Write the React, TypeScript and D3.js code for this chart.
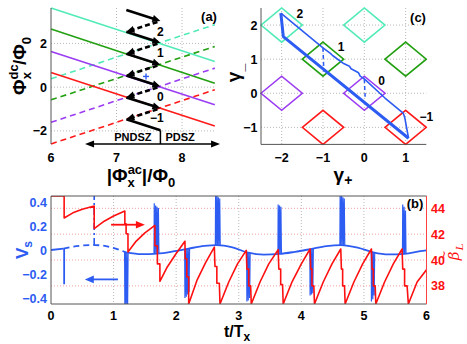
import React from 'react';
import * as d3 from 'd3';

// ---------- panel (a): flux branches ----------
const lineColors = ['#52ebb8', '#23a012', '#9b3cf2', '#ff1a1a'];
const solidLeft = [3.62, 2.66, 1.63, 0.67];    // value at |Φac| = 6
const solidRight = [1.17, 0.18, -0.81, -1.78]; // value at |Φac| = 8.5
const dashedLeft = [0.38, -0.58, -1.61, -2.6];
const dashedRight = [2.86, 1.86, 0.87, -0.12];
const stairX = [7.15, 7.67];
const stairTop = [3.53, 2.53, 1.53, 0.53, -0.47, -1.47];
const stairBottom = [3.03, 2.03, 1.03, 0.03, -0.97, -1.97];
const aLevelLabels = ['2', '1', '0', '\u22121'];
const aLevelY = [2.53, 1.57, -0.44, -1.41];
const aXTicks = [6, 7, 8];
const aYTicks = [-2, 0, 2];
const zoneBoundary = 7.67;
const zoneArrow = [6.52, 8.58];
const crossPoint = [7.45, 0.49];

// ---------- panel (c): gamma plane ----------
const diamondCenters = [[-2, 2], [0, 2], [-1, 1], [1, 1], [-2, 0], [0, 0], [-1, -1], [1, -1]];
const diamondColor = [0, 0, 1, 1, 2, 2, 3, 3];
const upperPath = [[-2.02, 2.35], [-1.0, 1.33], [-0.82, 1.17], [-0.76, 1.1], [-0.5, 0.87], [-0.36, 0.79],
  [-0.32, 0.72], [-0.14, 0.6], [-0.1, 0.5], [0.0, 0.42], [0.5, -0.14], [0.94, -0.58], [0.98, -0.72], [1.07, -1.32]];
const lowerPath = [[1.07, -1.32], [-1.96, 1.66], [-2.02, 2.35]];
const cDashX = [-1.0, 0.0];
const cDashTop = [1.33, 0.42];
const cDashBottom = [0.64, -0.1];
const cLevelLabels = ['2', '1', '0', '\u22121'];
const cLabelPos = [[-1.56, 2.33], [-0.56, 1.37], [0.42, 0.37], [1.5, -0.69]];
const cXTicks = [-2, -1, 0, 1];
const cYTicks = [-1, 0, 1, 2];

// ---------- panel (b): time traces ----------
const vsT = [0, 0.2, 0.45, 0.7, 0.95, 1.2, 1.45, 1.7, 1.95, 2.2, 2.45, 2.65, 2.9, 3.15, 3.4, 3.65, 3.9, 4.15, 4.4, 4.63, 4.9, 5.15, 5.4, 5.65, 5.9, 6.0];
const vsV = [0.0, 0.012, 0.035, 0.041, 0.024, -0.02, -0.035, -0.03, -0.012, 0.012, 0.034, 0.041, 0.022, -0.022, -0.038, -0.033, -0.015, 0.008, 0.032, 0.041, 0.02, -0.02, -0.037, -0.032, -0.01, -0.003];
const upSpikeT = [1.65, 2.63, 3.63, 4.62, 5.62];
const upSpikeTips = [[0.39, 0.37, 0.36, 0.35], [0.46, 0.46, 0.44, 0.43], [0.38, 0.37, 0.36], [0.46, 0.46, 0.44, 0.43], [0.38, 0.36, 0.33]];
const downSpikeT = [1.18, 2.14, 3.13, 4.14, 5.12];
const downSpikeTips = [[-0.47, -0.47, -0.47], [-0.4, -0.39, -0.37, -0.35], [-0.43, -0.42, -0.4], [-0.38, -0.37, -0.36], [-0.43, -0.41, -0.38]];
const betaL: [number, number][] = [
  [0, 44.95], [0.21, 44.95], [0.21, 43.25], [0.35, 43.65], [0.5, 43.93], [0.69, 44.18],
  [0.69, 42.42], [0.85, 43.0], [1.0, 43.4], [1.18, 43.79],
  [1.18, 42.8], [1.2, 42.8], [1.2, 42.03], [1.23, 42.03], [1.23, 40.62], [1.35, 41.4], [1.5, 42.1], [1.66, 42.68],
  [1.66, 41.1], [1.7, 41.1], [1.7, 39.7], [1.74, 39.7], [1.74, 38.35], [1.85, 39.4], [2.0, 40.5], [2.14, 41.45],
  [2.145, 40.1], [2.17, 40.1], [2.17, 38.7], [2.2, 38.7], [2.2, 36.6], [2.33, 38.4], [2.47, 39.8], [2.61, 41.0],
  [2.62, 39.5], [2.65, 39.5], [2.65, 38.2], [2.69, 38.2], [2.7, 36.6], [2.84, 38.3], [2.98, 39.7], [3.12, 40.75],
  [3.13, 39.3], [3.16, 39.3], [3.16, 38.0], [3.19, 38.0], [3.2, 36.6], [3.34, 38.3], [3.48, 39.7], [3.63, 40.8],
  [3.64, 39.3], [3.67, 39.3], [3.67, 38.1], [3.7, 38.1], [3.71, 36.6], [3.85, 38.3], [4.0, 39.7], [4.14, 40.85],
  [4.15, 39.3], [4.17, 39.3], [4.17, 38.0], [4.2, 38.0], [4.21, 36.6], [4.35, 38.3], [4.49, 39.7], [4.63, 40.85],
  [4.64, 39.3], [4.66, 39.3], [4.66, 38.0], [4.69, 38.0], [4.7, 36.6], [4.84, 38.3], [4.98, 39.7], [5.12, 40.85],
  [5.13, 39.3], [5.15, 39.3], [5.15, 38.0], [5.18, 38.0], [5.19, 36.6], [5.33, 38.3], [5.47, 39.7], [5.61, 40.85],
  [5.62, 39.3], [5.65, 39.3], [5.65, 38.0], [5.69, 38.0], [5.71, 36.6], [5.85, 38.3], [6.0, 39.25],
];
const bXTicks = [0, 1, 2, 3, 4, 5, 6];
const vsTicks = [0.4, 0.2, 0, -0.2, -0.4];
const betaTicks = [44, 42, 40, 38];

const FONT = '"Liberation Sans", Arial, Helvetica, sans-serif';
const BLUE = '#2d5cf2';
const GRID = '#b8b8b8';
const AXIS = '#555';

function head(x1: number, y1: number, x2: number, y2: number, len = 8, w = 3.5) {
  const a = Math.atan2(y2 - y1, x2 - x1);
  const bx = x2 - len * Math.cos(a), by = y2 - len * Math.sin(a);
  const nx = -Math.sin(a) * w, ny = Math.cos(a) * w;
  return `${x2},${y2} ${bx + nx},${by + ny} ${bx - nx},${by - ny}`;
}

const fmt = (v: number) => (v < 0 ? '\u2212' + Math.abs(v) : String(v));

export default function App() {
  const ax = d3.scaleLinear().domain([6, 8.5]).range([51, 214.8]);
  const ay = d3.scaleLinear().domain([-2.6, 3.62]).range([144, 8]);
  const cx = d3.scaleLinear().domain([-2.5, 1.5]).range([261, 426.3]);
  const cy = d3.scaleLinear().domain([-1.5, 2.5]).range([144.4, 8]);
  const bx = d3.scaleLinear().domain([0, 6]).range([51, 426.5]);
  const bv = d3.scaleLinear().domain([-0.45, 0.45]).range([304, 196]);
  const bb = d3.scaleLinear().domain([36.6, 44.95]).range([304, 196]);

  const baseAt = (t: number) => {
    const i = Math.max(1, Math.min(vsT.length - 1, d3.bisectLeft(vsT, t)));
    const f = (t - vsT[i - 1]) / (vsT[i] - vsT[i - 1]);
    return vsV[i - 1] + f * (vsV[i] - vsV[i - 1]);
  };

  const vsPts: [number, number][] = vsT.map((t, i) => [t, vsV[i]]);
  const vsLine = d3.line<[number, number]>().x(d => bx(d[0])).y(d => bv(d[1])).curve(d3.curveMonotoneX);
  const vsA = vsPts.filter(d => d[0] <= 0.2);
  const vsB = vsPts.filter(d => d[0] >= 0.2 && d[0] <= 1.2);
  const vsC = vsPts.filter(d => d[0] >= 1.2);

  const spikePath = (t0: number, tips: number[]) => {
    let p = `M${bx(t0 - 0.004)},${bv(baseAt(t0))}`;
    tips.forEach((tip, j) => {
      const t = t0 + j * 0.022;
      p += `L${bx(t)},${bv(tip)}L${bx(t + 0.008)},${bv(baseAt(t))}`;
    });
    return p;
  };

  const betaLine = d3.line<[number, number]>().x(d => bx(d[0])).y(d => bb(d[1]));
  const cLine = d3.line<number[]>().x(d => cx(d[0])).y(d => cy(d[1]));

  const tick = { fontFamily: FONT, fontWeight: 700, fontSize: 12.5 } as const;
  const bold = { fontFamily: FONT, fontWeight: 700 } as const;

  // blue arrow / red arrow in (b)
  const blueArrow = [bx(1.07), bv(-0.245), bx(0.54), bv(-0.245)];
  const redArrow = [bx(0.96), bb(42.73), bx(1.5), bb(42.73)];

  return (
    <svg width={467} height={344} style={{ position: 'absolute', left: 0, top: 0, background: '#fff' }}>
      <defs>
        <clipPath id="clipA"><rect x={50} y={6} width={166} height={140} /></clipPath>
        <clipPath id="clipB"><rect x={51} y={196} width={375.5} height={108} /></clipPath>
        <clipPath id="clipC"><rect x={260} y={7} width={167.5} height={138.5} /></clipPath>
      </defs>

      {/* ================= panel (a) ================= */}
      <g>
        {aXTicks.filter(t => t > 6).map(t => (
          <line key={'ag' + t} x1={ax(t)} x2={ax(t)} y1={ay(3.62)} y2={ay(-2.6)} stroke={GRID} strokeDasharray="1,2" />
        ))}
        {aYTicks.map(t => (
          <line key={'agy' + t} x1={ax(6)} x2={ax(8.5)} y1={ay(t)} y2={ay(t)} stroke={GRID} strokeDasharray="1,2" />
        ))}
        <g clipPath="url(#clipA)">
          {lineColors.map((c, i) => (
            <g key={'al' + i}>
              <line x1={ax(6)} y1={ay(solidLeft[i])} x2={ax(8.5)} y2={ay(solidRight[i])} stroke={c} strokeWidth={1.6} />
              <line x1={ax(6)} y1={ay(dashedLeft[i])} x2={ax(8.5)} y2={ay(dashedRight[i])} stroke={c} strokeWidth={1.6} strokeDasharray="6,4" />
            </g>
          ))}
        </g>
        {stairTop.map((top, i) => {
          const x1 = ax(stairX[0]), y1 = ay(top), x2 = ax(stairX[1]), y2 = ay(stairBottom[i]);
          const last = i === stairTop.length - 1;
          return (
            <g key={'st' + i}>
              <line x1={x1} y1={y1} x2={last ? ax(zoneBoundary) : x2 - 3} y2={last ? y2 : y2 - 1} stroke="#000" strokeWidth={2.6} />
              {!last && <polygon points={head(x1, y1, x2, y2, 8, 3.6)} fill="#000" />}
            </g>
          );
        })}
        {stairBottom.slice(0, -1).map((b, i) => {
          const x1 = ax(stairX[1]), y1 = ay(b), x2 = ax(stairX[0]), y2 = ay(stairTop[i + 1]);
          return (
            <g key={'sd' + i}>
              <line x1={x1 - 3} y1={y1 + 1} x2={x2 + 4} y2={y2 - 1.3} stroke="#000" strokeWidth={2.6} strokeDasharray="5,3" />
              <polygon points={head(x1, y1, x2, y2, 8, 3.6)} fill="#000" />
            </g>
          );
        })}
        {aLevelLabels.map((l, i) => (
          <text key={'alab' + i} x={ax(7.72)} y={ay(aLevelY[i])} dy="0.36em" textAnchor="end" fontSize={12} {...bold}>{l}</text>
        ))}
        <g stroke={BLUE} strokeWidth={1.4}>
          <line x1={ax(crossPoint[0]) - 3} x2={ax(crossPoint[0]) + 3} y1={ay(crossPoint[1])} y2={ay(crossPoint[1])} />
          <line x1={ax(crossPoint[0])} x2={ax(crossPoint[0])} y1={ay(crossPoint[1]) - 3} y2={ay(crossPoint[1]) + 3} />
        </g>
        {/* zones */}
        <line x1={ax(zoneBoundary)} x2={ax(zoneBoundary)} y1={ay(stairBottom[5])} y2={ay(-2.6)} stroke="#000" strokeWidth={1.5} />
        <line x1={ax(zoneArrow[0]) + 4} x2={ax(zoneArrow[1]) - 4} y1={ay(-2.6)} y2={ay(-2.6)} stroke="#000" strokeWidth={1.5} />
        <polygon points={head(ax(zoneArrow[1]), ay(-2.6), ax(zoneArrow[0]), ay(-2.6), 9, 3.6)} fill="#000" />
        <polygon points={head(ax(zoneArrow[0]), ay(-2.6), ax(zoneArrow[1]), ay(-2.6), 9, 3.6)} fill="#000" />
        <text x={ax(7.25)} y={ay(-2.27)} dy="0.36em" textAnchor="middle" fontSize={11} {...bold}>PNDSZ</text>
        <text x={ax(7.97)} y={ay(-2.27)} dy="0.36em" textAnchor="middle" fontSize={11} {...bold}>PDSZ</text>
        <line x1={ax(6)} x2={ax(6)} y1={ay(3.62)} y2={ay(-2.6)} stroke={AXIS} strokeWidth={1} />
        {aXTicks.map(t => (
          <text key={'axt' + t} x={ax(t)} y={157} dy="0.36em" textAnchor="middle" {...tick}>{t}</text>
        ))}
        {aYTicks.map(t => (
          <text key={'ayt' + t} x={47} y={ay(t)} dy="0.36em" textAnchor="end" {...tick}>{fmt(t)}</text>
        ))}
        <text x={209} y={16} dy="0.36em" textAnchor="middle" fontSize={13} {...bold}>(a)</text>
        {/* x label |Φx^ac|/Φ0 */}
        <text x={141} y={182} textAnchor="middle" fontSize={19} {...bold}>
          |Φ<tspan fontSize={13} dy={-8}>ac</tspan><tspan fontSize={13} dx={-14.5} dy={13}>x</tspan>
          <tspan dx={7} dy={-5}>|/Φ</tspan><tspan fontSize={13} dy={5}>0</tspan>
        </text>
        {/* y label Φx^dc/Φ0 */}
        <text transform="translate(26,66) rotate(-90)" textAnchor="middle" fontSize={19} {...bold}>
          Φ<tspan fontSize={13} dy={-8}>dc</tspan><tspan fontSize={13} dx={-15} dy={13}>x</tspan>
          <tspan dx={7} dy={-5}>/Φ</tspan><tspan fontSize={13} dy={5}>0</tspan>
        </text>
      </g>

      {/* ================= panel (c) ================= */}
      <g>
        {cXTicks.map(t => (
          <line key={'cg' + t} x1={cx(t)} x2={cx(t)} y1={cy(2.5)} y2={cy(-1.5)} stroke={GRID} strokeDasharray="1,2" />
        ))}
        {cYTicks.map(t => (
          <line key={'cgy' + t} x1={cx(-2.5)} x2={cx(1.5)} y1={cy(t)} y2={cy(t)} stroke={GRID} strokeDasharray="1,2" />
        ))}
        <g clipPath="url(#clipC)">
          {diamondCenters.map((d, i) => (
            <polygon key={'dm' + i} fill="none" stroke={lineColors[diamondColor[i]]} strokeWidth={1.6}
              points={[[d[0] - 0.5, d[1]], [d[0], d[1] + 0.5], [d[0] + 0.5, d[1]], [d[0], d[1] - 0.5]].map(p => `${cx(p[0])},${cy(p[1])}`).join(' ')} />
          ))}
          <path d={cLine(lowerPath) || ''} fill="none" stroke={BLUE} strokeWidth={3} strokeLinejoin="round" />
          <path d={cLine(upperPath) || ''} fill="none" stroke={BLUE} strokeWidth={1.6} strokeLinejoin="round" />
          {cDashX.map((x, i) => (
            <line key={'cd' + i} x1={cx(x)} x2={cx(x + 0.02)} y1={cy(cDashTop[i])} y2={cy(cDashBottom[i])} stroke={BLUE} strokeWidth={1.5} strokeDasharray="4,3" />
          ))}
        </g>
        {cLevelLabels.map((l, i) => (
          <text key={'clab' + i} x={cx(cLabelPos[i][0])} y={cy(cLabelPos[i][1])} dy="0.36em" textAnchor="middle" fontSize={12} {...bold}>{l}</text>
        ))}
        <line x1={cx(-2.5)} x2={cx(-2.5)} y1={cy(2.5)} y2={cy(-1.5)} stroke={AXIS} />
        <line x1={cx(-2.5)} x2={cx(1.5)} y1={cy(-1.5)} y2={cy(-1.5)} stroke={AXIS} />
        {cXTicks.map(t => (
          <text key={'cxt' + t} x={cx(t)} y={157} dy="0.36em" textAnchor="middle" {...tick}>{fmt(t)}</text>
        ))}
        {cYTicks.map(t => (
          <text key={'cyt' + t} x={257.5} y={cy(t)} dy="0.36em" textAnchor="end" {...tick}>{fmt(t)}</text>
        ))}
        <text x={418} y={17} dy="0.36em" textAnchor="middle" fontSize={13} {...bold}>(c)</text>
        <text x={343} y={181} textAnchor="middle" fontSize={19} {...bold}>
          γ<tspan fontSize={14} dy={4}>+</tspan>
        </text>
        <text transform="translate(240,73) rotate(-90)" textAnchor="middle" fontSize={19} {...bold}>
          γ<tspan fontSize={14} dy={4}>_</tspan>
        </text>
      </g>

      {/* ================= panel (b) ================= */}
      <g>
        {bXTicks.filter(t => t > 0 && t < 6).map(t => (
          <line key={'bg' + t} x1={bx(t)} x2={bx(t)} y1={196} y2={304} stroke={GRID} strokeDasharray="1,2" />
        ))}
        {betaTicks.map(t => (
          <line key={'bgy' + t} x1={51} x2={426.5} y1={bb(t)} y2={bb(t)} stroke="#f2a0a0" strokeDasharray="1,2" />
        ))}
        <g clipPath="url(#clipB)">
          <path d={vsLine(vsA) || ''} fill="none" stroke={BLUE} strokeWidth={1.8} />
          <path d={vsLine(vsB) || ''} fill="none" stroke={BLUE} strokeWidth={1.8} strokeDasharray="6,4" />
          <path d={vsLine(vsC) || ''} fill="none" stroke={BLUE} strokeWidth={1.8} />
          <line x1={bx(0.21)} x2={bx(0.21)} y1={bv(0.012)} y2={bv(-0.285)} stroke={BLUE} strokeWidth={1.8} />
          <line x1={bx(0.69)} x2={bx(0.69)} y1={bv(0.041)} y2={bv(0.45)} stroke={BLUE} strokeWidth={1.6} strokeDasharray="7,3,2,3" />
          {upSpikeT.map((t, i) => (
            <path key={'us' + i} d={spikePath(t, upSpikeTips[i])} fill="none" stroke={BLUE} strokeWidth={1.2} />
          ))}
          {downSpikeT.map((t, i) => (
            <path key={'ds' + i} d={spikePath(t, downSpikeTips[i])} fill="none" stroke={BLUE} strokeWidth={1.2} />
          ))}
          <path d={betaLine(betaL) || ''} fill="none" stroke="#ff1010" strokeWidth={1.6} strokeLinejoin="round" />
        </g>
        <line x1={blueArrow[0]} y1={blueArrow[1]} x2={blueArrow[2] + 6} y2={blueArrow[3]} stroke={BLUE} strokeWidth={1.8} />
        <polygon points={head(blueArrow[0], blueArrow[1], blueArrow[2], blueArrow[3], 9, 3.8)} fill={BLUE} />
        <line x1={redArrow[0]} y1={redArrow[1]} x2={redArrow[2] - 6} y2={redArrow[3]} stroke="#ff1010" strokeWidth={1.8} />
        <polygon points={head(redArrow[0], redArrow[1], redArrow[2], redArrow[3], 9, 3.8)} fill="#ff1010" />

        <line x1={51} x2={426.5} y1={196} y2={196} stroke={AXIS} />
        <line x1={51} x2={426.5} y1={304} y2={304} stroke={AXIS} />
        <line x1={51} x2={51} y1={196} y2={304} stroke={AXIS} />
        <line x1={426.5} x2={426.5} y1={196} y2={304} stroke="#ff4040" />
        {bXTicks.map(t => (
          <text key={'bxt' + t} x={bx(t)} y={315} dy="0.36em" textAnchor="middle" {...tick}>{t}</text>
        ))}
        {vsTicks.map(t => (
          <text key={'bvt' + t} x={47} y={bv(t)} dy="0.36em" textAnchor="end" fill={BLUE} {...tick}>{fmt(t)}</text>
        ))}
        {betaTicks.map(t => (
          <text key={'bbt' + t} x={431} y={bb(t)} dy="0.36em" textAnchor="start" fill="#ff1010" {...tick}>{t}</text>
        ))}
        <text x={415} y={203} dy="0.36em" textAnchor="middle" fontSize={13} {...bold}>(b)</text>
        <text x={237} y={337} textAnchor="middle" fontSize={16} {...bold}>
          t/T<tspan fontSize={12} dy={4}>x</tspan>
        </text>
        <text transform="translate(28,250) rotate(-90)" textAnchor="middle" fontSize={17} fill={BLUE} {...bold}>
          V<tspan fontSize={12} dy={4}>s</tspan>
        </text>
        <g transform="translate(459,252) rotate(-90)" fill="#ff1010">
          <text x={-4} y={0} textAnchor="middle" fontSize={15} fontStyle="italic" fontFamily="DejaVu Serif, serif">β</text>
          <text x={-3} y={-11} textAnchor="middle" fontSize={11} fontFamily="DejaVu Serif, serif">~</text>
          <text x={5} y={4} textAnchor="middle" fontSize={10} fontStyle="italic" fontFamily="DejaVu Serif, serif">L</text>
        </g>
      </g>
    </svg>
  );
}
